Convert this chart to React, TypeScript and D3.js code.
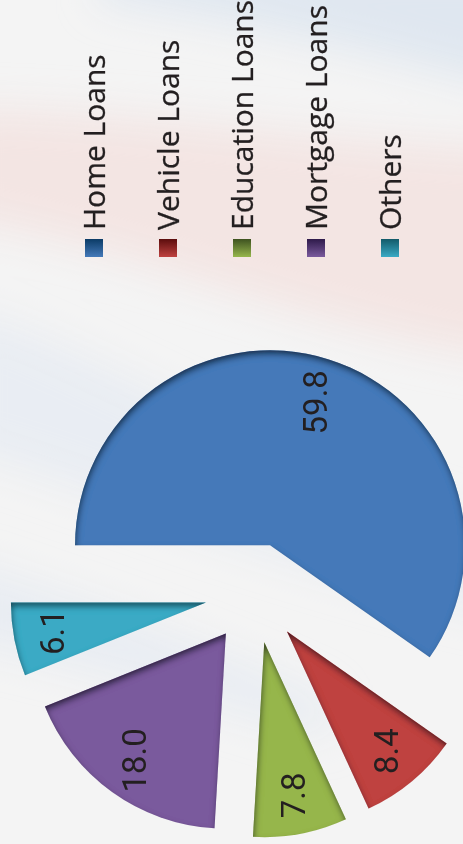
import React, { useEffect, useRef } from 'react';
import * as d3 from 'd3';

// loan portfolio mix (%), chart is shown turned 90deg
const categories = ['Home Loans', 'Vehicle Loans', 'Education Loans', 'Mortgage Loans', 'Others'];
const values = [59.8, 8.4, 7.8, 18.0, 6.1];
const colors = ['#4479b9', '#bf4240', '#96b64c', '#7a5a9d', '#3aaac5'];
const swatchTop = ['#0b3b66', '#5c0d0d', '#3e5220', '#2e1a4a', '#135a69'];

const W = 463;
const H = 844;

export default function App() {
  const ref = useRef<SVGSVGElement>(null);

  useEffect(() => {
    const svg = d3.select(ref.current);
    svg.selectAll('*').remove();

    const defs = svg.append('defs');

    // soft background swooshes
    const bgBlur = defs.append('filter').attr('id', 'bgblur')
      .attr('x', '-50%').attr('y', '-50%').attr('width', '200%').attr('height', '200%');
    bgBlur.append('feGaussianBlur').attr('stdDeviation', 20);

    // inner shadow for slices
    const f = defs.append('filter').attr('id', 'inner')
      .attr('x', '-10%').attr('y', '-10%').attr('width', '120%').attr('height', '120%');
    f.append('feComponentTransfer').attr('in', 'SourceAlpha').attr('result', 'inv')
      .append('feFuncA').attr('type', 'table').attr('tableValues', '1 0');
    f.append('feGaussianBlur').attr('in', 'inv').attr('stdDeviation', 3).attr('result', 'blur');
    f.append('feOffset').attr('in', 'blur').attr('dx', 1).attr('dy', 4).attr('result', 'off');
    f.append('feFlood').attr('flood-color', '#0a0f1e').attr('flood-opacity', 0.9).attr('result', 'col');
    f.append('feComposite').attr('in', 'col').attr('in2', 'off').attr('operator', 'in').attr('result', 'sh');
    f.append('feComposite').attr('in', 'sh').attr('in2', 'SourceAlpha').attr('operator', 'in').attr('result', 'shin');
    const m = f.append('feMerge');
    m.append('feMergeNode').attr('in', 'SourceGraphic');
    m.append('feMergeNode').attr('in', 'shin');

    categories.forEach((c, i) => {
      const g = defs.append('linearGradient').attr('id', 'sw' + i)
        .attr('x1', 0).attr('y1', 0).attr('x2', 0).attr('y2', 1);
      g.append('stop').attr('offset', '0%').attr('stop-color', swatchTop[i]);
      g.append('stop').attr('offset', '100%').attr('stop-color', colors[i]);
    });

    svg.append('rect').attr('width', W).attr('height', H).attr('fill', '#f4f4f4');
    const bg = svg.append('g').attr('filter', 'url(#bgblur)');
    bg.append('path').attr('d', 'M100,-40 L520,-40 L520,90 C400,60 250,20 100,0 Z').attr('fill', '#dde5f0').attr('opacity', 0.9);
    bg.append('path').attr('d', 'M-40,110 C120,110 300,140 520,150 L520,360 C300,330 120,240 -40,220 Z')
      .attr('fill', '#f3e3e1').attr('opacity', 0.9);
    bg.append('path').attr('d', 'M-40,310 C60,330 200,430 520,540 L520,620 C250,560 80,480 -40,450 Z')
      .attr('fill', '#e4eaf2').attr('opacity', 0.7);
    bg.append('path').attr('d', 'M-40,560 C80,600 200,640 330,700 L330,740 C200,700 60,660 -40,640 Z')
      .attr('fill', '#e1e8f1').attr('opacity', 0.6);

    // legend
    const leg = svg.append('g');
    categories.forEach((c, i) => {
      const x = 85 + i * 74;
      leg.append('rect').attr('x', x).attr('y', 239).attr('width', 18).attr('height', 18)
        .attr('fill', `url(#sw${i})`);
      leg.append('text')
        .attr('transform', `translate(${x + 20},230) rotate(-90)`)
        .attr('font-family', '"Open Sans", sans-serif')
        .attr('font-size', 30)
        .attr('fill', '#231f20')
        .attr('stroke', '#231f20')
        .attr('stroke-width', 0.3)
        .text(c);
    });

    // pie
    const cx = 255;
    const cy = 593;
    const r = 195;
    const explode = 50;
    const pie = d3.pie<number>().sort(null).startAngle(-Math.PI / 2).endAngle(Math.PI * 1.5);
    const arc = d3.arc<d3.PieArcDatum<number>>().innerRadius(0).outerRadius(r);
    const arcs = pie(values);

    const g = svg.append('g').attr('transform', `translate(${cx},${cy})`);
    const slice = g.selectAll('.slice').data(arcs).enter().append('g')
      .attr('class', 'slice')
      .attr('transform', (d) => {
        const a = (d.startAngle + d.endAngle) / 2;
        return `translate(${explode * Math.sin(a)},${-explode * Math.cos(a)})`;
      });

    slice.append('path')
      .attr('d', arc)
      .attr('fill', (d, i) => colors[i])
      .attr('filter', 'url(#inner)');

    slice.append('text')
      .attr('transform', (d) => {
        const a = (d.startAngle + d.endAngle) / 2;
        const lr = d.index === 0 ? 150 : 156;
        return `translate(${lr * Math.sin(a)},${-lr * Math.cos(a)}) rotate(-90)`;
      })
      .attr('text-anchor', 'middle')
      .attr('dominant-baseline', 'central')
      .attr('font-family', 'Roboto, sans-serif')
      .attr('font-size', 33)
      .attr('fill', '#231f20')
      .text((d) => d.data.toFixed(1));
  }, []);

  return (
    <svg ref={ref} width={W} height={H}
      style={{ position: 'absolute', left: 0, top: 0, display: 'block' }} />
  );
}
